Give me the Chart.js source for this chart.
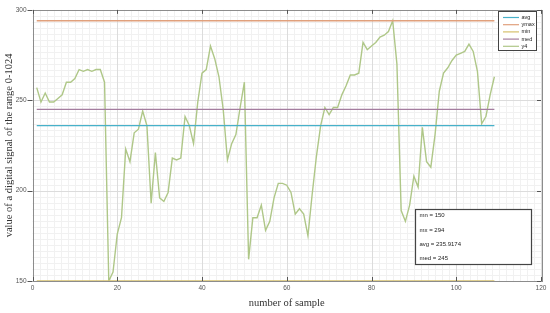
<!DOCTYPE html>
<html>
<head>
<meta charset="utf-8">
<script src="https://cdn.jsdelivr.net/npm/chart.js@4"></script>
<style>
  html, body { margin: 0; padding: 0; background: #fff; }
  #wrap { width: 550px; height: 313px; }
</style>
</head>
<body>
<div id="wrap"><canvas id="chart" width="550" height="313"></canvas></div>
<script>
// signal values, sample 1..109
const y4 = [
  257, 249, 254, 249, 249, 251, 253, 260, 260, 262,
  267, 266, 267, 266, 267, 267, 260, 150, 155, 176,
  185, 223, 216, 232, 234, 244, 236, 193, 221, 196,
  194, 199, 218, 217, 218, 241, 236, 226, 249, 265,
  267, 280, 273, 263, 245, 217, 226, 231, 246, 260,
  162, 185, 185, 192, 178, 183, 196, 204, 204, 203,
  199, 187, 190, 187, 175, 198, 219, 236, 246, 242,
  246, 246, 253, 258, 264, 264, 265, 282, 278, 280,
  282, 285, 286, 288, 294, 270, 189, 183, 192, 208,
  202, 235, 216, 213, 231, 255, 265, 268, 272, 275,
  276, 277, 281, 277, 266, 237, 241, 253, 263
];
const firstSample = 1;
const lastSample = 109;

const mn = 150;
const mx = 294;
const avg = 235.9174;
const med = 245;

const legendNames = ["avg", "ymax", "min", "med", "y4"];
const statLines = ["mn = " + mn, "mx = " + mx, "avg = " + avg, "med = " + med];

const xTicks = [0, 20, 40, 60, 80, 100, 120];
const yTicks = [150, 200, 250, 300];

const colors = {
  avg: "#47b1c9",
  ymax: "#e0a07c",
  min: "#d6c06c",
  med: "#a47d9f",
  y4: "#afc788"
};

// horizontal reference line spanning the samples
const hline = (v) => [{ x: firstSample, y: v }, { x: lastSample, y: v }];

// minor + major grid, drawn under the lines
const gridPlugin = {
  id: "grid",
  beforeDatasetsDraw(chart) {
    const { ctx, chartArea: a, scales: { x, y } } = chart;
    ctx.save();
    ctx.lineWidth = 1;
    ctx.strokeStyle = "#f1f1f1";
    for (let v = 0; v <= 120; v += 20 / 12) {
      const px = Math.round(x.getPixelForValue(v)) + 0.5;
      ctx.beginPath(); ctx.moveTo(px, a.top); ctx.lineTo(px, a.bottom); ctx.stroke();
    }
    for (let v = 150; v <= 300; v += 50 / 15) {
      const py = Math.round(y.getPixelForValue(v)) + 0.5;
      ctx.beginPath(); ctx.moveTo(a.left, py); ctx.lineTo(a.right, py); ctx.stroke();
    }
    ctx.strokeStyle = "#dcdcdc";
    xTicks.forEach((v) => {
      const px = Math.round(x.getPixelForValue(v)) + 0.5;
      ctx.beginPath(); ctx.moveTo(px, a.top); ctx.lineTo(px, a.bottom); ctx.stroke();
    });
    yTicks.forEach((v) => {
      const py = Math.round(y.getPixelForValue(v)) + 0.5;
      ctx.beginPath(); ctx.moveTo(a.left, py); ctx.lineTo(a.right, py); ctx.stroke();
    });
    ctx.restore();
  },
  afterDraw(chart) {
    const { ctx, chartArea: a, scales: { x, y } } = chart;
    ctx.save();
    // axes box
    ctx.strokeStyle = "#8c8c8c";
    ctx.lineWidth = 1;
    ctx.strokeRect(Math.round(a.left) + 0.5, Math.round(a.top) + 0.5,
      Math.round(a.right - a.left), Math.round(a.bottom - a.top));
    // tick marks
    ctx.strokeStyle = "#555";
    xTicks.forEach((v) => {
      const px = Math.round(x.getPixelForValue(v)) + 0.5;
      ctx.beginPath(); ctx.moveTo(px, a.bottom); ctx.lineTo(px, a.bottom - 4); ctx.stroke();
      ctx.beginPath(); ctx.moveTo(px, a.top); ctx.lineTo(px, a.top + 4); ctx.stroke();
    });
    yTicks.forEach((v) => {
      const py = Math.round(y.getPixelForValue(v)) + 0.5;
      ctx.beginPath(); ctx.moveTo(a.left - 5, py); ctx.lineTo(a.left, py); ctx.stroke();
      ctx.beginPath(); ctx.moveTo(a.right, py); ctx.lineTo(a.right - 4, py); ctx.stroke();
    });

    // legend box (top right)
    const lx = 498.5, ly = 11.5, lw = 38, lh = 39;
    ctx.fillStyle = "#fff";
    ctx.fillRect(lx, ly, lw, lh);
    ctx.strokeStyle = "#444";
    ctx.strokeRect(lx, ly, lw, lh);
    ctx.font = "5.5px 'Liberation Sans', Arial, sans-serif";
    ctx.textBaseline = "middle";
    legendNames.forEach((name, i) => {
      const yy = 17.5 + i * 7.2;
      ctx.strokeStyle = colors[name];
      ctx.lineWidth = 1.2;
      ctx.beginPath(); ctx.moveTo(503, yy); ctx.lineTo(519, yy); ctx.stroke();
      ctx.fillStyle = "#222";
      ctx.fillText(name, 521.5, yy);
    });

    // stats box
    const sx = 415.5, sy = 209.5, sw = 116, sh = 55;
    ctx.fillStyle = "#fff";
    ctx.fillRect(sx, sy, sw, sh);
    ctx.strokeStyle = "#444";
    ctx.strokeRect(sx, sy, sw, sh);
    ctx.font = "6px 'Liberation Sans', Arial, sans-serif";
    ctx.fillStyle = "#222";
    statLines.forEach((t, i) => {
      ctx.fillText(t, 419.5, 215.5 + i * 14.4);
    });
    ctx.restore();
  }
};

new Chart(document.getElementById("chart"), {
  type: "line",
  data: {
    datasets: [
      { label: "avg", data: hline(avg), borderColor: colors.avg },
      { label: "ymax", data: hline(mx), borderColor: colors.ymax },
      { label: "min", data: hline(mn), borderColor: colors.min, clip: 4 },
      { label: "med", data: hline(med), borderColor: colors.med },
      {
        label: "y4",
        data: y4.map((v, i) => ({ x: firstSample + i, y: v })),
        borderColor: colors.y4,
        borderWidth: 1.4
      }
    ].map((d) => Object.assign({ borderWidth: 1.3, pointRadius: 0, tension: 0, fill: false }, d))
  },
  options: {
    responsive: false,
    animation: false,
    layout: { padding: { top: 7, right: 9, left: 0, bottom: 0 } },
    plugins: { legend: { display: false }, tooltip: { enabled: false } },
    scales: {
      x: {
        type: "linear",
        min: 0,
        max: 120,
        afterBuildTicks: (s) => { s.ticks = xTicks.map((v) => ({ value: v })); },
        afterFit: (s) => { s.height = 32; },
        grid: { display: false, drawTicks: false },
        border: { display: false },
        ticks: { padding: 3, color: "#555", font: { size: 6.5, family: "'Liberation Sans', Arial, sans-serif" } },
        title: {
          display: true,
          text: "number of sample",
          color: "#333",
          font: { size: 10.5, family: "'Liberation Serif', 'Times New Roman', serif" },
          padding: { top: 0, bottom: 3 }
        }
      },
      y: {
        min: 150,
        max: 300,
        afterBuildTicks: (s) => { s.ticks = yTicks.map((v) => ({ value: v })); },
        afterFit: (s) => { s.width = 32.5; },
        grid: { display: false, drawTicks: false },
        border: { display: false },
        ticks: { padding: 6, color: "#555", font: { size: 6.5, family: "'Liberation Sans', Arial, sans-serif" } },
        title: {
          display: true,
          text: "value of a digital signal of the range 0-1024",
          color: "#333",
          font: { size: 10.5, family: "'Liberation Serif', 'Times New Roman', serif" },
          padding: { top: 3, bottom: 0 }
        }
      }
    }
  },
  plugins: [gridPlugin]
});
</script>
</body>
</html>
